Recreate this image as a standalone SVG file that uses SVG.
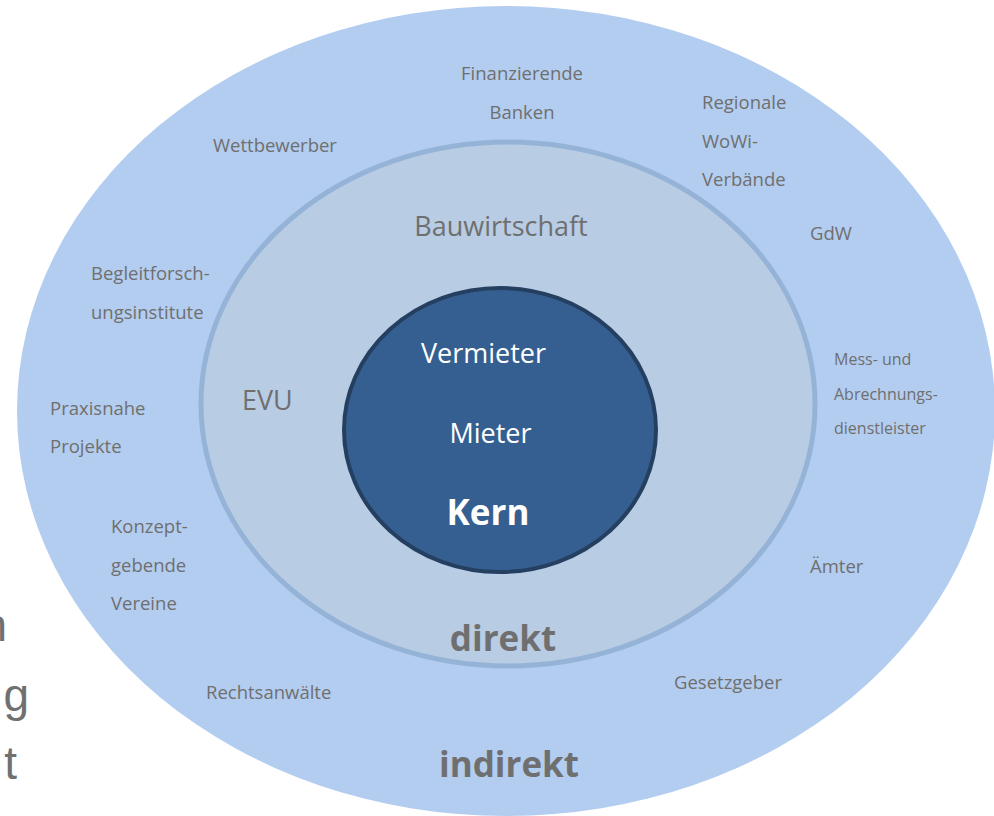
<svg xmlns="http://www.w3.org/2000/svg" width="994" height="816" viewBox="0 0 994 816">
<style>
.lbl{font-family:"Open Sans","Noto Sans",sans-serif;font-size:18.5px;fill:#6f6f6f}
.sm{font-size:16px}
.big{font-family:"Open Sans","Noto Sans",sans-serif;font-size:27px;fill:#6f6f6f}
.bold{font-family:"Open Sans","Noto Sans",sans-serif;font-size:35px;font-weight:700;fill:#6f6f6f}
.side{font-family:"Liberation Sans",Arial,sans-serif;font-size:46px;fill:#707070}
.wht{fill:#ffffff}
</style>
<rect width="994" height="816" fill="#ffffff"/>
<g id="side-text">
<text class="side" x="7" y="641" text-anchor="end">n</text>
<text class="side" x="29" y="711" text-anchor="end">g</text>
<text class="side" x="17" y="779" text-anchor="end">t</text>
</g>
<g id="outer">
<ellipse cx="506" cy="411" rx="489" ry="405" fill="#b3cdf0"/>
<text class="lbl" x="522" y="79.5" text-anchor="middle">Finanzierende</text>
<text class="lbl" x="522" y="118.5" text-anchor="middle">Banken</text>
<text class="lbl" x="213" y="152">Wettbewerber</text>
<text class="lbl" x="702" y="109">Regionale</text>
<text class="lbl" x="702" y="147.5">WoWi-</text>
<text class="lbl" x="702" y="185.5">Verbände</text>
<text class="lbl" x="810" y="240">GdW</text>
<text class="lbl" x="91" y="280">Begleitforsch-</text>
<text class="lbl" x="91" y="319">ungsinstitute</text>
<text class="lbl" x="50" y="414.5">Praxisnahe</text>
<text class="lbl" x="50" y="453">Projekte</text>
<text class="lbl sm" x="834" y="365">Mess- und</text>
<text class="lbl sm" x="834" y="399.5">Abrechnungs-</text>
<text class="lbl sm" x="834" y="433.5">dienstleister</text>
<text class="lbl" x="111" y="533">Konzept-</text>
<text class="lbl" x="111" y="571.5">gebende</text>
<text class="lbl" x="111" y="610">Vereine</text>
<text class="lbl" x="810" y="573">Ämter</text>
<text class="lbl" x="674" y="689">Gesetzgeber</text>
<text class="lbl" x="206" y="699">Rechtsanwälte</text>
<text class="bold" x="509" y="777" text-anchor="middle">indirekt</text>
</g>
<g id="direkt">
<ellipse cx="508" cy="404" rx="307" ry="262" fill="#b8cce4" stroke="#95b3d7" stroke-width="5"/>
<text class="big" x="501" y="235.5" text-anchor="middle">Bauwirtschaft</text>
<text class="big" x="242" y="409.5">EVU</text>
<text class="bold" x="503" y="651" text-anchor="middle">direkt</text>
</g>
<g id="kern">
<ellipse cx="500" cy="430" rx="156" ry="142" fill="#355f91" stroke="#243f60" stroke-width="4"/>
<text class="big wht" x="483.5" y="363" text-anchor="middle">Vermieter</text>
<text class="big wht" x="490.5" y="443" text-anchor="middle">Mieter</text>
<text class="bold wht" x="488" y="525" text-anchor="middle">Kern</text>
</g>
<g id="connectors"/>
</svg>
